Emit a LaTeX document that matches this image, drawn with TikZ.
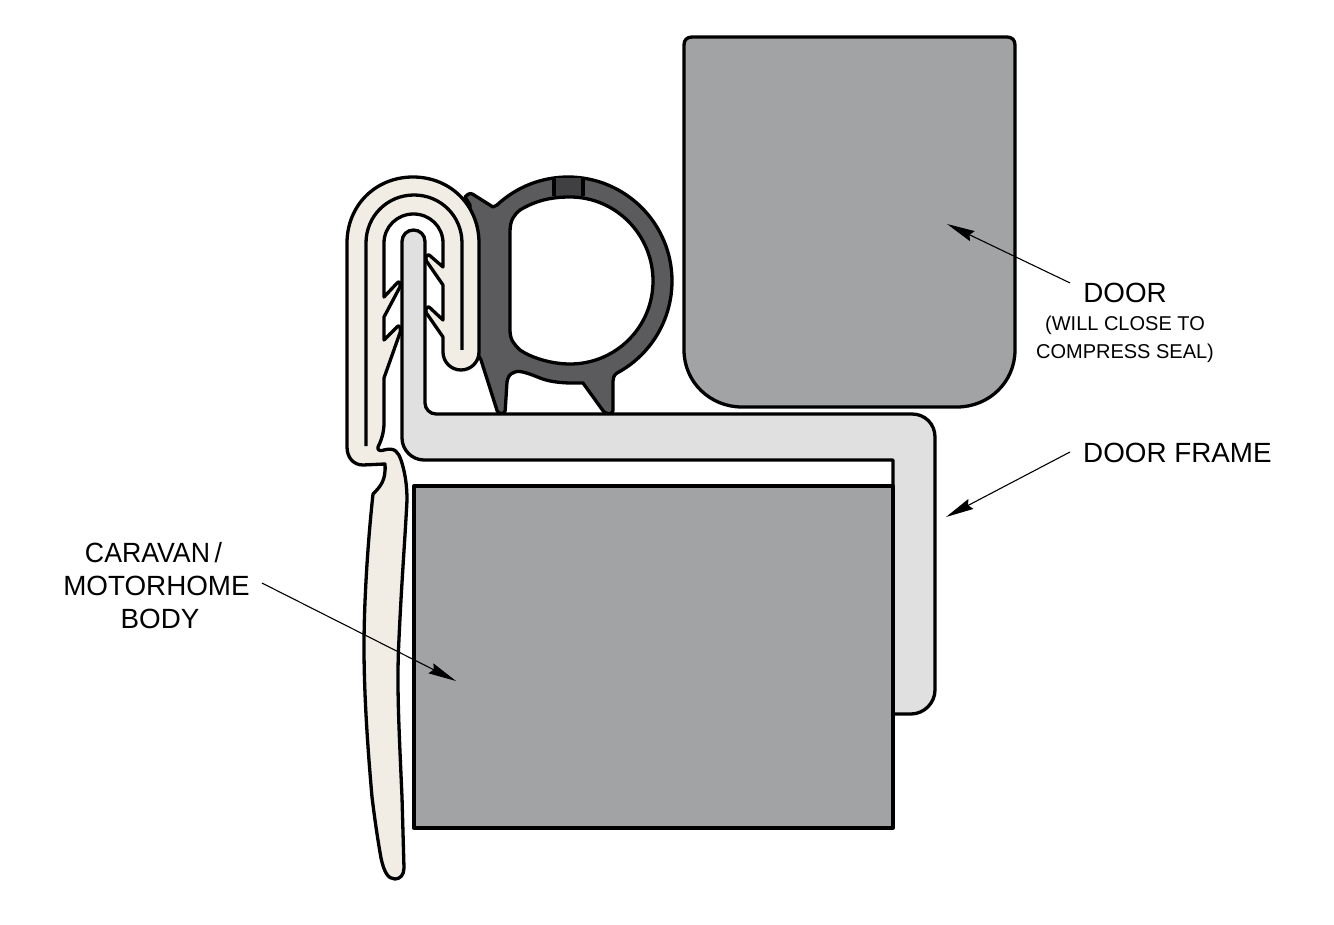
\documentclass[tikz,border=0pt]{standalone}
\usepackage{fontspec}
\setmainfont{Liberation Sans}
\usetikzlibrary{arrows.meta}
\definecolor{creamc}{HTML}{F1ECE4}
\definecolor{framec}{HTML}{E0E0E1}
\definecolor{greyc}{HTML}{A2A3A5}
\definecolor{darkc}{HTML}{5B5B5D}
\definecolor{blockc}{HTML}{404042}
\tikzset{
  part/.style={draw=black,line width=3.3pt,line join=round},
  leader/.style={draw=black,line width=1.1pt,-{Stealth[length=28pt,width=11pt,inset=3pt]}},
  biglabel/.style={inner sep=0pt,font=\fontsize{27.8}{33}\selectfont},
  smalllabel/.style={inner sep=0pt,font=\fontsize{20}{28}\selectfont,align=center}
}
\begin{document}
\begin{tikzpicture}[x=1pt,y=-1pt]
\useasboundingbox (0,0) rectangle (1334,925);
% door
\path[part,fill=greyc] (684,45) .. controls (684,40) and (687,37) .. (692,37) -- (1007,37)
  .. controls (1012,37) and (1015,40) .. (1015,45) -- (1015,350)
  .. controls (1015,382) and (989,407) .. (957,407) -- (742,407)
  .. controls (710,407) and (684,382) .. (684,350) -- cycle;
% rubber bulb seal
\path[part,fill=darkc] (470,340) -- (470,205) -- (465,197)
  [rounded corners=3pt] -- (470,192.5) [sharp corners] -- (493,207) -- (497,205)
  .. controls (516.2,187) and (541.7,177) .. (568,177)
  .. controls (625.4,177) and (672,223.6) .. (672,281)
  .. controls (672,319.4) and (651,354.9) .. (617,373)
  .. controls (614,375) and (613,378) .. (613,381)
  [rounded corners=3pt] -- (613,413.5) -- (605,413.5) [sharp corners] -- (583,383)
  .. controls (575,383) and (555,384) .. (540,378)
  .. controls (530,374) and (520,370) .. (515,372)
  .. controls (509,374) and (508,377) .. (507,382)
  [rounded corners=3pt] -- (505,413.5) -- (498,413.5) [sharp corners] -- (481,360) -- cycle;
\fill[blockc] (554,178) -- (583,178) -- (583,196) -- (554,196) -- cycle;
\path[part] (554,178) -- (554,196) (583,178) -- (583,196);
\path[part,fill=white] (510,232) .. controls (510,220) and (514,215) .. (520,210)
  .. controls (535,201) and (550,197) .. (570,197)
  .. controls (616,197) and (653,235) .. (653,281)
  .. controls (653,327) and (616,364) .. (570,364)
  .. controls (550,364) and (530,357) .. (520,350)
  .. controls (514,344) and (510,340) .. (510,330) -- cycle;
% clip seal with lip
\path[part,fill=creamc] (347,243) .. controls (347,205.5) and (375.5,177) .. (413,177)
  .. controls (450.5,177) and (479,205.5) .. (479,243) -- (479,352)
  .. controls (479,362) and (471,370) .. (461,370)
  .. controls (451,370) and (443,362) .. (443,352) -- (443,337)
  [rounded corners=2pt] -- (425,311) -- (428,306) [sharp corners] -- (443,320) -- (443,285)
  [rounded corners=2pt] -- (425,259) -- (428,254) [sharp corners] -- (443,267) -- (443,243)
  .. controls (443,226.7) and (429.8,214) .. (413.5,214)
  .. controls (397.2,214) and (384,226.7) .. (384,243) -- (384,297)
  [rounded corners=2pt] -- (399,281) -- (401,285) [sharp corners] -- (384,317) -- (384,340)
  [rounded corners=2pt] -- (399,325) -- (401,330) [sharp corners] -- (384,378) -- (384,423)
  .. controls (384,433) and (381,441) .. (378,447)
  .. controls (377,451) and (381,451) .. (384,450)
  .. controls (395,447) and (398,452) .. (401,460)
  .. controls (405,472) and (407,485) .. (407,500)
  .. controls (405,540) and (401,590) .. (398.5,650)
  .. controls (397,690) and (399,730) .. (402,797)
  -- (404,868)
  .. controls (404,875) and (400,879) .. (395,879)
  .. controls (388,879) and (384,872) .. (381,858)
  .. controls (376,830) and (373,805) .. (372,797)
  .. controls (367,740) and (364,690) .. (364,647)
  .. controls (364,600) and (368,540) .. (373,494)
  .. controls (381,486) and (386,480) .. (385,464)
  -- (363,465) .. controls (353,465) and (347,457) .. (347,447) -- cycle;
\path[part] (366,446) -- (366,243)
  .. controls (366,216.5) and (387,195) .. (414,195)
  .. controls (441,195) and (462,216.5) .. (462,243) -- (462,350);
% door frame
\path[part,fill=framec] (402,241.5) .. controls (402,235) and (407,230) .. (413.5,230)
  .. controls (420,230) and (425,235) .. (425,241.5) -- (425,403)
  .. controls (425,409) and (430,414) .. (436,414) -- (912,414)
  .. controls (925,414) and (935,424) .. (935,437) -- (935,690)
  .. controls (935,703) and (924,714) .. (911,714) -- (893,714) -- (893,460) -- (424,460)
  .. controls (412,460) and (402,450) .. (402,438) -- cycle;
% body
\path[part,fill=greyc] (414,486) -- (893,486) -- (893,828) -- (414,828) -- cycle;
% labels
\node[biglabel] (doorlabel) at (1125,293) {DOOR};
\node[smalllabel] (doornote) at (1125,339.5) {(WILL CLOSE TO\\COMPRESS SEAL)};
\node[biglabel,anchor=west] (framelabel) at (1083,453) {DOOR FRAME};
\node[biglabel,xscale=.96,transform shape] (caravanlabel) at (153.5,553) {CARAVAN\hspace{-3pt} /};
\node[biglabel] (motorlabel) at (156.5,586) {MOTORHOME};
\node[biglabel] (bodylabel) at (160,619) {BODY};
\coordinate (doorpt) at (947,224);
\coordinate (framept) at (946,517);
\coordinate (bodypt) at (456,681);
\draw[leader] ([shift={(-13,-10)}]doorlabel.west) -- (doorpt);
\draw[leader] ([shift={(-13,-1)}]framelabel.west) -- (framept);
\draw[leader] ([shift={(12,-3)}]motorlabel.east) -- (bodypt);
\end{tikzpicture}
\end{document}
